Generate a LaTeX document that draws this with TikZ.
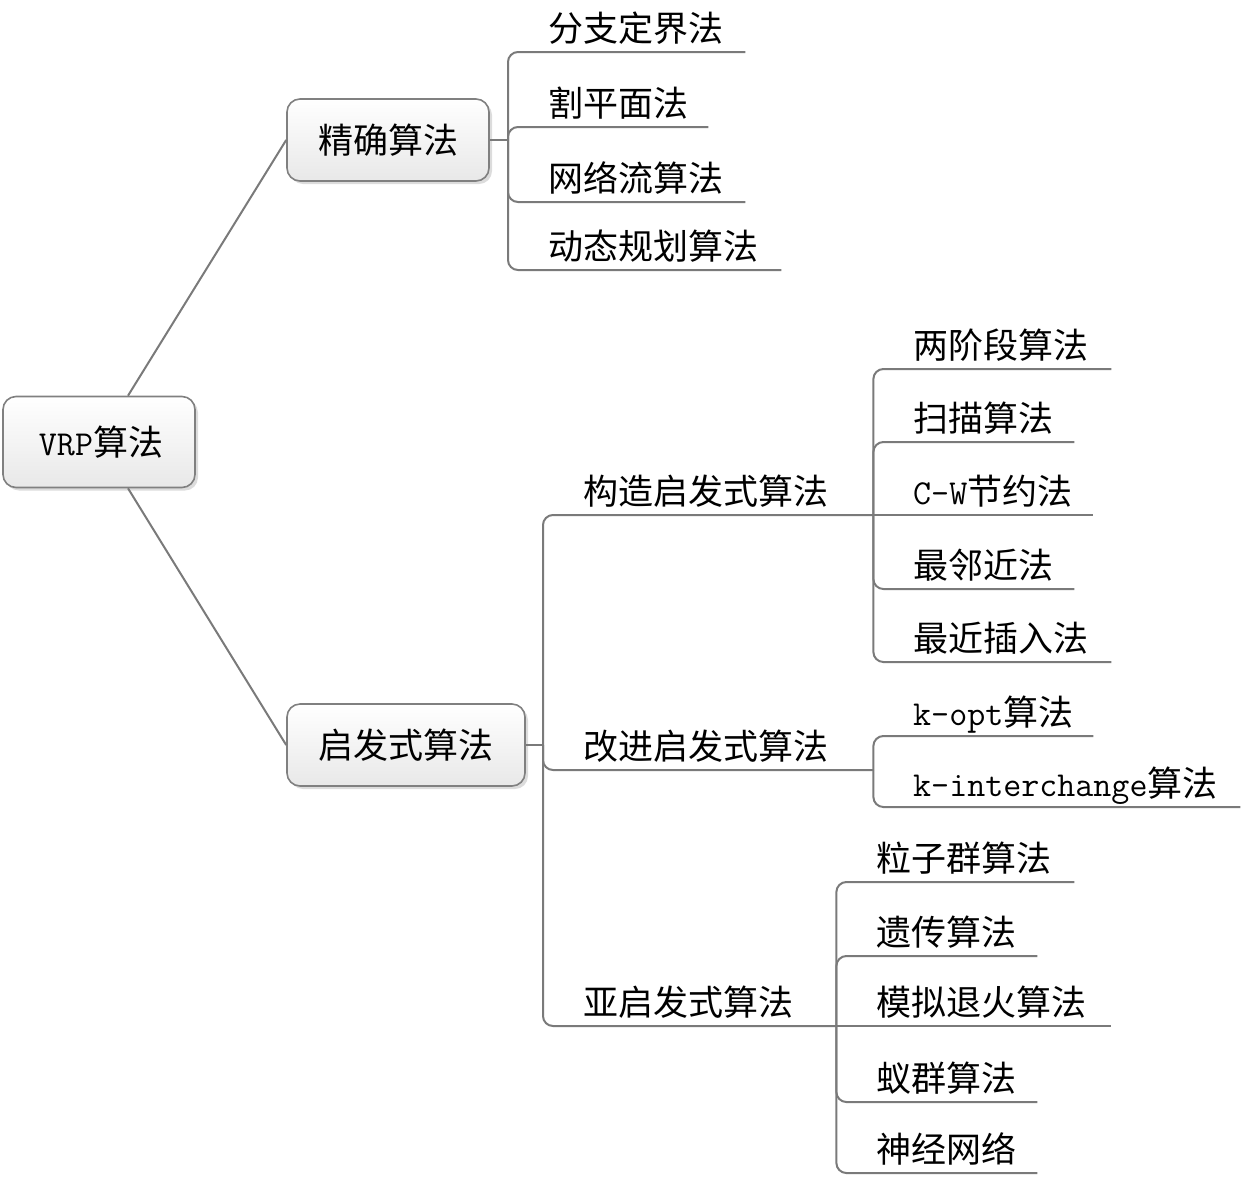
\documentclass[tikz,border=0pt]{standalone}
\usepackage{fontspec}
\setmainfont{Noto Sans CJK SC}
\newfontfamily\lat{Latin Modern Mono}
\usetikzlibrary{shadows}
\definecolor{linegray}{HTML}{7A7A7A}
\definecolor{boxgray}{HTML}{808080}
\tikzset{
  txt/.style={font=\fontsize{35pt}{40pt}\selectfont},
  mainbox/.style={txt, draw=boxgray, line width=1.6pt, rounded corners=13pt,
    top color=white, bottom color=black!9,
    drop shadow={shadow xshift=3pt, shadow yshift=-3pt, fill=black!30, opacity=0.45},
    inner sep=0pt},
  leaf/.style={txt, anchor=south west, inner sep=0pt, align=left, text depth=10pt,
    execute at begin node={\hspace*{40pt}}},
  conn/.style={draw=linegray, line width=2pt},
  branch/.style={conn, rounded corners=10pt},
}
\begin{document}
\begin{tikzpicture}[x=1pt,y=-1pt]
\useasboundingbox (0,0) rectangle (1242,1203);

% main boxes
\node[mainbox, minimum width=192pt, minimum height=91pt] (root) at (99,442) {\hspace*{4pt}{\lat VRP}算法};
\node[mainbox, minimum width=202pt, minimum height=82pt] (exact) at (388,140) {精确算法};
\node[mainbox, minimum width=238pt, minimum height=82pt] (heur) at (406,745) {启发式算法};

\draw[conn] ([xshift=29pt]root.north) -- (exact.west);
\draw[conn] ([xshift=29pt]root.south) -- (heur.west);

% exact algorithms
\coordinate (ej) at (508,140);
\node[leaf, text width=237pt] (e1) at (508,52) {分支定界法};
\node[leaf, text width=200pt] (e2) at (508,127) {割平面法};
\node[leaf, text width=237pt] (e3) at (508,202) {网络流算法};
\node[leaf, text width=273pt] (e4) at (508,270) {动态规划算法};
\draw[conn] (exact.east) -- (ej);
\foreach \n in {e1,e2,e3,e4} \draw[branch] (ej) |- (\n.south east);

% heuristic algorithms
\coordinate (hj) at (543,745);
\node[leaf, text width=330pt] (gz) at (543,515) {构造启发式算法};
\node[leaf, text width=330pt] (gj) at (543,770) {改进启发式算法};
\node[leaf, text width=293pt] (ya) at (543,1026) {亚启发式算法};
\draw[conn] (heur.east) -- (hj);
\foreach \n in {gz,gj,ya} \draw[branch] (hj) |- (\n.south east);

% constructive
\node[leaf, text width=238pt] (c1) at (873,369) {两阶段算法};
\node[leaf, text width=201pt] (c2) at (873,442) {扫描算法};
\node[leaf, text width=220pt] (c3) at (873,515) {{\lat C-W}节约法};
\node[leaf, text width=201pt] (c4) at (873,589) {最邻近法};
\node[leaf, text width=238pt] (c5) at (873,662) {最近插入法};
\foreach \n in {c1,c2,c4,c5} \draw[branch] (gz.south east) |- (\n.south east);
\draw[conn] (gz.south east) -- (c3.south east);

% improvement
\node[leaf, text width=220pt] (i1) at (873,736) {{\lat k-opt}算法};
\node[leaf, text width=367pt] (i2) at (873,807) {{\lat k-interchange}算法};
\foreach \n in {i1,i2} \draw[branch] (gj.south east) |- (\n.south east);

% meta-heuristic
\node[leaf, text width=238pt] (m1) at (836,882) {粒子群算法};
\node[leaf, text width=201pt] (m2) at (836,956) {遗传算法};
\node[leaf, text width=275pt] (m3) at (836,1026) {模拟退火算法};
\node[leaf, text width=201pt] (m4) at (836,1102) {蚁群算法};
\node[leaf, text width=201pt] (m5) at (836,1173) {神经网络};
\foreach \n in {m1,m2,m4,m5} \draw[branch] (ya.south east) |- (\n.south east);
\draw[conn] (ya.south east) -- (m3.south east);
\end{tikzpicture}
\end{document}
